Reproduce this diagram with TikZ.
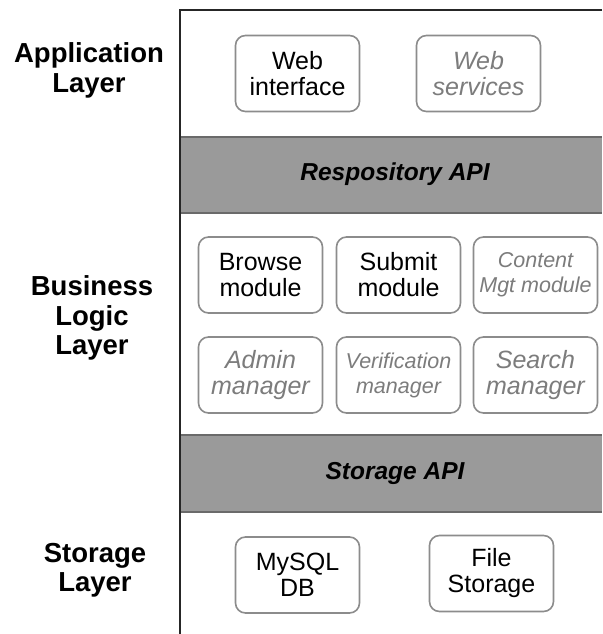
\documentclass[tikz,border=0pt]{standalone}
\usepackage{fontspec}
\setmainfont{Liberation Sans}
\definecolor{bandgray}{HTML}{9A9A9A}
\definecolor{banddark}{HTML}{6A6A6A}
\definecolor{boxline}{HTML}{8C8C8C}
\definecolor{softtext}{HTML}{7C7C7C}
\begin{document}
\begin{tikzpicture}[x=1pt,y=-1pt,
  modbox/.style={draw=boxline,line width=1.6pt,rounded corners=10pt,fill=white,
    minimum width=124pt,minimum height=76pt,inner sep=0pt,align=center,
    font=\fontsize{25}{26}\selectfont},
  plain/.style={modbox,text=black},
  soft/.style={modbox,text=softtext,font=\fontsize{25}{26}\selectfont\itshape},
  softsmall/.style={modbox,text=softtext,font=\fontsize{21.5}{25}\selectfont\itshape},
  layerlabel/.style={align=center,inner sep=0pt,font=\fontsize{27.5}{29.5}\selectfont\bfseries},
  apilabel/.style={inner sep=0pt,font=\fontsize{24.5}{26}\selectfont\bfseries\itshape},
  frameline/.style={draw=black!85,line width=2.6pt},
  bandline/.style={draw=banddark,line width=2pt}]
\useasboundingbox (0,0) rectangle (602,634);
% bands
\fill[bandgray] (180,137) rectangle (602,213);
\fill[bandgray] (180,435) rectangle (602,512);
\draw[bandline] (180,137) -- (602,137);
\draw[bandline] (180,213) -- (602,213);
\draw[bandline] (180,435) -- (602,435);
\draw[bandline] (180,512) -- (602,512);
% frame
\draw[frameline] (602,10) -- (180,10) -- (180,634);
% layer labels
\node[layerlabel] (lapp) at (89,70.5) {Application\\Layer};
\node[layerlabel] (lbus) at (92,318) {Business\\Logic\\Layer};
\node[layerlabel] (lsto) at (95,570) {Storage\\Layer};
% API bands
\node[apilabel] (rapi) at (395,174.5) {Respository API};
\node[apilabel] (sapi) at (395,473.5) {Storage API};
% application layer
\node[plain] (webint) at (297.5,73.5) {Web\\interface};
\node[soft] (websvc) at (478.5,73.5) {Web\\services};
% business logic layer
\node[plain] (browse) at (260.5,275) {Browse\\module};
\node[plain] (submit) at (398.5,275) {Submit\\module};
\node[softsmall] (content) at (535.5,275) {Content\\Mgt module};
\node[soft] (admin) at (260.5,375) {Admin\\manager};
\node[softsmall] (verif) at (398.5,375) {Verification\\manager};
\node[soft] (search) at (535.5,375) {Search\\manager};
% storage layer
\node[plain] (mysql) at (297.5,575) {MySQL\\DB};
\node[plain] (files) at (491.5,573.5) {File\\Storage};
\end{tikzpicture}
\end{document}
